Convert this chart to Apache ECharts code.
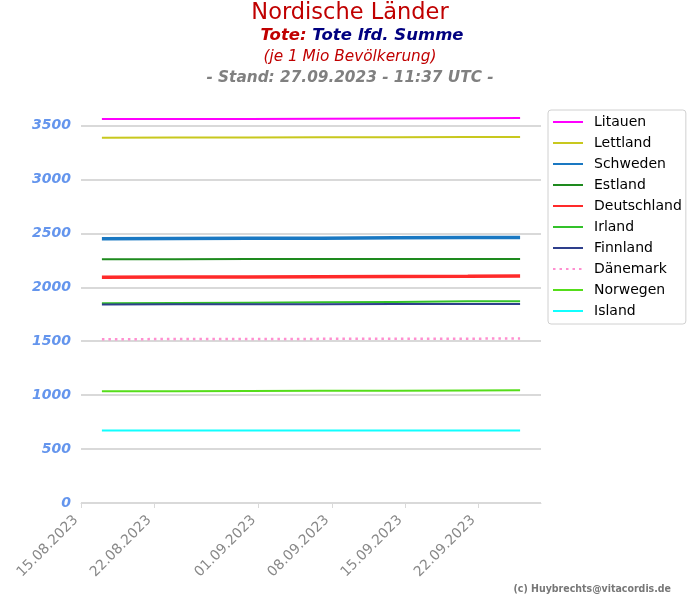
<!DOCTYPE html>
<html>
<head>
<meta charset="utf-8">
<script src="https://cdn.jsdelivr.net/npm/echarts@6/dist/echarts.min.js"></script>
<style>
html, body { margin: 0; padding: 0; background: #fff; }
#chart { width: 700px; height: 600px; }
</style>
</head>
<body>
<div id="chart"></div>
<script>
// Stichtage (Datenpunkte)
const dates = ['2023-08-17', '2023-08-24', '2023-08-31', '2023-09-07', '2023-09-14', '2023-09-21', '2023-09-26']
// Achsenbeschriftung x
const tickDates = ['2023-08-15', '2023-08-22', '2023-09-01', '2023-09-08', '2023-09-15', '2023-09-22']

// Tote lfd. Summe je 1 Mio
const litauen = [3560, 3561, 3562, 3564, 3566, 3568, 3570]
const lettland = [3388, 3389, 3390, 3391, 3392, 3394, 3395]
const schweden = [2450, 2452, 2454, 2456, 2459, 2462, 2463]
const estland = [2261, 2261, 2262, 2262, 2262, 2263, 2263]
const deutschland = [2094, 2095, 2096, 2098, 2100, 2102, 2104]
const irland = [1853, 1855, 1858, 1862, 1865, 1870, 1872]
const finnland = [1841, 1842, 1843, 1844, 1845, 1846, 1846]
const daenemark = [1519, 1520, 1521, 1522, 1523, 1524, 1525]
const norwegen = [1036, 1037, 1038, 1040, 1042, 1044, 1045]
const island = [673, 673, 673, 673, 673, 673, 673]

const seriesDef = [
  { name: 'Litauen', data: litauen, color: '#ff00ff', width: 2 },
  { name: 'Lettland', data: lettland, color: '#c8c81e', width: 2 },
  { name: 'Schweden', data: schweden, color: '#1a78c2', width: 3.5 },
  { name: 'Estland', data: estland, color: '#1e8a1e', width: 2 },
  { name: 'Deutschland', data: deutschland, color: '#ff2a2a', width: 3.5 },
  { name: 'Irland', data: irland, color: '#33c12a', width: 2 },
  { name: 'Finnland', data: finnland, color: '#2e3f8c', width: 2 },
  { name: 'Dänemark', data: daenemark, color: '#ff8fd0', width: 2.5, type: [2.5, 4] },
  { name: 'Norwegen', data: norwegen, color: '#55dd1a', width: 2 },
  { name: 'Island', data: island, color: '#11ffff', width: 2 }
]

const chart = echarts.init(document.getElementById('chart'))

const option = {
  animation: false,
  title: [
    {
      text: 'Nordische Länder',
      left: 345, top: -3, textAlign: 'center',
      textStyle: { color: '#c00000', fontSize: 22.5, fontWeight: 'normal', fontFamily: 'DejaVu Sans' }
    },
    {
      text: '{a|Tote: }{b|Tote lfd. Summe}',
      left: 357, top: 22, textAlign: 'center',
      textStyle: {
        rich: {
          a: { color: '#c00000', fontSize: 16.5, fontWeight: 'bold', fontStyle: 'italic', fontFamily: 'DejaVu Sans' },
          b: { color: '#000080', fontSize: 16.5, fontWeight: 'bold', fontStyle: 'italic', fontFamily: 'DejaVu Sans' }
        }
      }
    },
    {
      text: '(je 1 Mio Bevölkerung)',
      left: 345, top: 45, textAlign: 'center',
      textStyle: { color: '#c00000', fontSize: 15.3, fontWeight: 'normal', fontStyle: 'italic', fontFamily: 'DejaVu Sans' }
    },
    {
      text: '- Stand: 27.09.2023 - 11:37 UTC -',
      left: 345, top: 66, textAlign: 'center',
      textStyle: { color: '#808080', fontSize: 15.3, fontWeight: 'bold', fontStyle: 'italic', fontFamily: 'DejaVu Sans' }
    },
    {
      text: '(c) Huybrechts@vitacordis.de',
      right: 24, top: 579,
      textStyle: { color: '#777', fontSize: 10.5, fontWeight: 'bold', fontFamily: 'Liberation Sans Narrow, DejaVu Sans Condensed, sans-serif' }
    }
  ],
  legend: {
    orient: 'vertical',
    left: 548, top: 110,
    padding: [5, 4, 6, 4],
    itemWidth: 30, itemHeight: 14, itemGap: 7,
    itemStyle: { opacity: 0 },
    borderColor: '#d0d0d0', borderWidth: 1, borderRadius: 3,
    textStyle: { color: '#000', fontSize: 14, fontFamily: 'DejaVu Sans', padding: [0, 0, 0, 6] },
    data: seriesDef.map(s => s.name)
  },
  grid: { left: 81, right: 159, top: 104, bottom: 97, containLabel: false },
  xAxis: {
    type: 'time',
    min: '2023-08-15',
    max: '2023-09-28',
    axisLine: { lineStyle: { color: '#d9d9d9', width: 1 } },
    axisTick: { show: true, customValues: tickDates, length: 5, lineStyle: { color: '#d9d9d9' } },
    splitLine: { show: false },
    axisLabel: {
      customValues: tickDates,
      rotate: 45,
      color: '#888',
      fontSize: 14,
      fontFamily: 'DejaVu Sans',
      margin: 10,
      padding: [0, 7, 0, 0],
      formatter: '{dd}.{MM}.{yyyy}'
    }
  },
  yAxis: {
    type: 'value',
    min: 0, max: 3700, interval: 500,
    axisLine: { show: false },
    axisTick: { show: false },
    splitLine: { show: true, showMaxLine: false, lineStyle: { color: '#d9d9d9', width: 2 } },
    axisLabel: {
      showMaxLabel: false,
      formatter: v => String(v),
      color: '#6495ed', fontSize: 14, fontWeight: 'bold', fontStyle: 'italic',
      fontFamily: 'DejaVu Sans', margin: 10
    }
  },
  series: seriesDef.map(s => ({
    name: s.name,
    type: 'line',
    symbol: 'none',
    color: s.color,
    lineStyle: { color: s.color, width: s.width, type: s.type || 'solid' },
    data: dates.map((d, i) => [d, s.data[i]])
  }))
}

chart.setOption(option)
</script>
</body>
</html>
